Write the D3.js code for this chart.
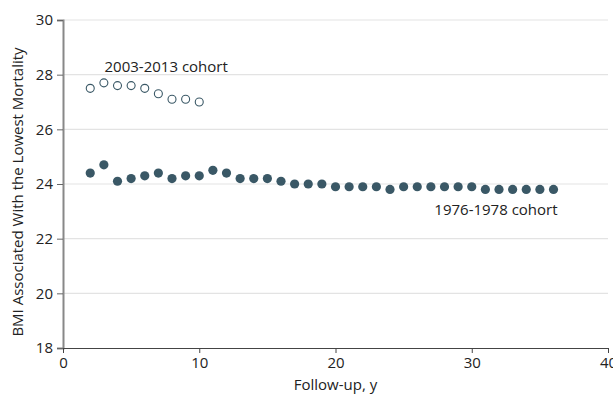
<!DOCTYPE html>
<html><head><meta charset="utf-8">
<script src="https://cdn.jsdelivr.net/npm/d3@7"></script>
<style>body{margin:0;background:#fff}svg{display:block}text{font-family:"Open Sans",sans-serif;fill:#222}</style>
</head><body><svg id="c" width="613" height="401"></svg>
<script>
const yearsOld = [2,3,4,5,6,7,8,9,10,11,12,13,14,15,16,17,18,19,20,21,22,23,24,25,26,27,28,29,30,31,32,33,34,35,36];
const bmiOld = [24.4,24.7,24.1,24.2,24.3,24.4,24.2,24.3,24.3,24.5,24.4,24.2,24.2,24.2,24.1,24.0,24.0,24.0,23.9,23.9,23.9,23.9,23.8,23.9,23.9,23.9,23.9,23.9,23.9,23.8,23.8,23.8,23.8,23.8,23.8];
const yearsNew = [2,3,4,5,6,7,8,9,10];
const bmiNew = [27.5,27.7,27.6,27.6,27.5,27.3,27.1,27.1,27.0];
const xTicks = [0,10,20,30,40];
const yTicks = [18,20,22,24,26,28,30];
const labelOld = "1976-1978 cohort", labelNew = "2003-2013 cohort";

const svg = d3.select("#c");
const L=63, R=608, T=20, B=348;
const x = d3.scaleLinear().domain([0,40]).range([L,R]);
const y = d3.scaleLinear().domain([18,30]).range([B,T]);
const col = "#3a5866";

svg.append("g").selectAll("line").data(yTicks.filter(d=>d>18)).join("line")
  .attr("x1",L).attr("x2",R).attr("y1",d=>y(d)).attr("y2",d=>y(d))
  .attr("stroke","#e3e3e3").attr("stroke-width",1.2);

const ya = svg.append("g").attr("transform",`translate(${L},0)`)
  .call(d3.axisLeft(y).tickValues(yTicks).tickSize(6).tickPadding(4));
ya.select(".domain").attr("stroke","#888").attr("stroke-width",2);
ya.selectAll(".tick line").attr("stroke","#666");
ya.selectAll("text").style("font-size","15px").attr("fill","#222");

const xa = svg.append("g").attr("transform",`translate(0,${B})`)
  .call(d3.axisBottom(x).tickValues(xTicks).tickSize(5).tickPadding(4).tickSizeOuter(0));
xa.select(".domain").attr("stroke","#444").attr("stroke-width",1.2);
xa.selectAll(".tick line").attr("stroke","#444");
xa.selectAll("text").style("font-size","15px").attr("fill","#222");

svg.append("g").selectAll("circle").data(yearsOld.map((d,i)=>[d,bmiOld[i]])).join("circle")
  .attr("cx",d=>x(d[0])).attr("cy",d=>y(d[1])).attr("r",4.6).attr("fill",col);
svg.append("g").selectAll("circle").data(yearsNew.map((d,i)=>[d,bmiNew[i]])).join("circle")
  .attr("cx",d=>x(d[0])).attr("cy",d=>y(d[1])).attr("r",4).attr("fill","#fff").attr("stroke",col).attr("stroke-width",1.1);

svg.append("text").attr("x",x(3.05)).attr("y",y(28.08)).style("font-size","15px").text(labelNew);
svg.append("text").attr("x",x(36.3)).attr("y",y(22.85)).attr("text-anchor","end").style("font-size","15px").text(labelOld);

svg.append("text").attr("x",(L+R)/2).attr("y",390).attr("text-anchor","middle").style("font-size","15px").text("Follow-up, y");
svg.append("text").attr("transform",`translate(23,${(T+B)/2+8}) rotate(-90)`).attr("text-anchor","middle").style("font-size","15px").text("BMI Associated With the Lowest Mortality");
</script></body></html>
